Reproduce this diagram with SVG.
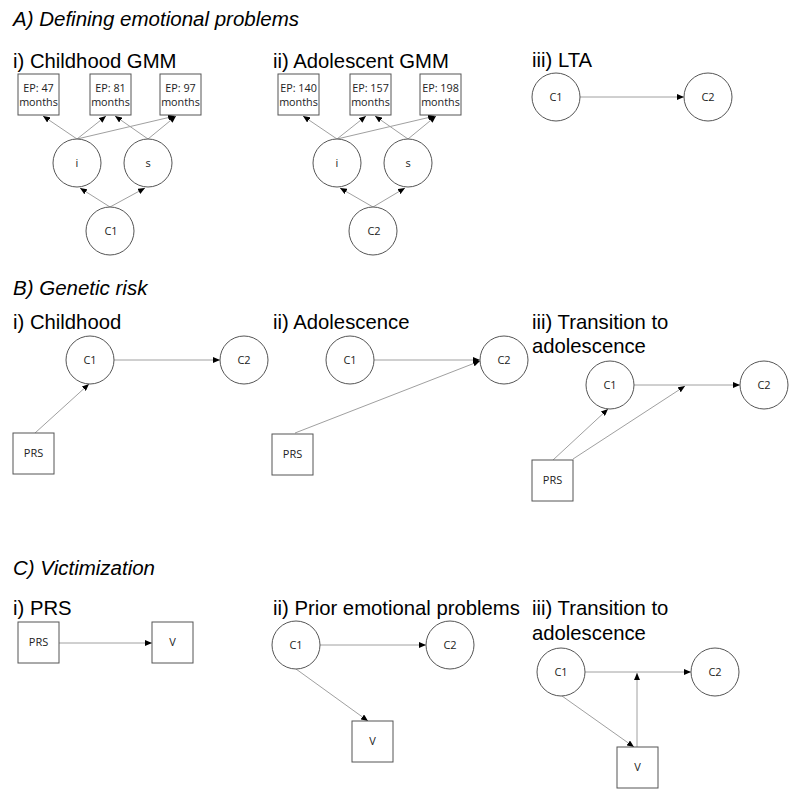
<svg xmlns="http://www.w3.org/2000/svg" width="800" height="801" viewBox="0 0 800 801">
<style>
.sec{font-family:"Liberation Sans",Arial,sans-serif;font-size:20.5px;font-style:italic;fill:#000}
.sub{font-family:"Liberation Sans",Arial,sans-serif;font-size:20.3px;fill:#000}
.nd{fill:#fff;stroke:#555;stroke-width:1}
.lb{font-family:"Open Sans","Noto Sans",sans-serif;font-size:11px;fill:#222;text-anchor:middle}
.ep{font-family:"Open Sans","Noto Sans",sans-serif;font-size:10.8px;fill:#222;text-anchor:middle}
.cn line{stroke:#a0a0a0;stroke-width:1;marker-end:url(#ah)}
</style>
<defs>
<marker id="ah" markerUnits="userSpaceOnUse" viewBox="0 0 7 6" refX="7" refY="3" markerWidth="7" markerHeight="6" orient="auto">
<path d="M0,0 L7,3 L0,6 z" fill="#000"/>
</marker>
</defs>
<rect width="800" height="801" fill="#fff"/>

<!-- Titles -->
<text class="sec" x="13" y="26">A) Defining emotional problems</text>
<text class="sub" x="13" y="68">i) Childhood GMM</text>
<text class="sub" x="273" y="68">ii) Adolescent GMM</text>
<text class="sub" x="532" y="67">iii) LTA</text>
<text class="sec" x="13" y="295">B) Genetic risk</text>
<text class="sub" x="13" y="329">i) Childhood</text>
<text class="sub" x="273" y="329">ii) Adolescence</text>
<text class="sub" x="532" y="329">iii) Transition to</text>
<text class="sub" x="532" y="353">adolescence</text>
<text class="sec" x="13" y="575">C) Victimization</text>
<text class="sub" x="13" y="615">i) PRS</text>
<text class="sub" x="273" y="615">ii) Prior emotional problems</text>
<text class="sub" x="532" y="615">iii) Transition to</text>
<text class="sub" x="532" y="640">adolescence</text>

<!-- Connectors -->
<g id="connectors" class="cn">
<line x1="77" y1="139" x2="43" y2="116"/>
<line x1="77" y1="139" x2="106" y2="116"/>
<line x1="77" y1="139" x2="175" y2="116"/>
<line x1="148" y1="139" x2="115" y2="116"/>
<line x1="148" y1="139" x2="176" y2="116"/>
<line x1="110" y1="207" x2="80" y2="188"/>
<line x1="110" y1="207" x2="145" y2="188"/>

<line x1="337" y1="139" x2="303" y2="116"/>
<line x1="337" y1="139" x2="366" y2="116"/>
<line x1="337" y1="139" x2="435" y2="116"/>
<line x1="408" y1="139" x2="375" y2="116"/>
<line x1="408" y1="139" x2="436" y2="116"/>
<line x1="373" y1="207" x2="340" y2="188"/>
<line x1="373" y1="207" x2="405" y2="188"/>

<line x1="580" y1="97" x2="684" y2="97"/>

<line x1="114" y1="360" x2="220" y2="360"/>
<line x1="35" y1="433" x2="89" y2="384"/>

<line x1="374" y1="360" x2="480" y2="360"/>
<line x1="295" y1="433" x2="480" y2="361"/>

<line x1="634" y1="385" x2="740" y2="385"/>
<line x1="553" y1="460" x2="608" y2="409"/>
<line x1="573" y1="459" x2="685" y2="386"/>

<line x1="59" y1="643" x2="152" y2="643"/>

<line x1="320" y1="645" x2="426" y2="645"/>
<line x1="296" y1="669" x2="368" y2="721"/>

<line x1="585" y1="672" x2="691" y2="672"/>
<line x1="562" y1="696" x2="634" y2="747"/>
<line x1="637" y1="747" x2="637" y2="673"/>
</g>

<!-- A i -->
<g id="a1-ep47"><rect class="nd" x="18" y="74" width="41" height="41"/><text class="ep" x="38.5" y="92">EP: 47</text><text class="ep" x="38.5" y="106">months</text></g>
<g id="a1-ep81"><rect class="nd" x="90" y="74" width="41" height="41"/><text class="ep" x="110.5" y="92">EP: 81</text><text class="ep" x="110.5" y="106">months</text></g>
<g id="a1-ep97"><rect class="nd" x="160" y="74" width="41" height="41"/><text class="ep" x="180.5" y="92">EP: 97</text><text class="ep" x="180.5" y="106">months</text></g>
<g id="a1-i"><circle class="nd" cx="77" cy="163" r="24"/><text class="lb" x="77" y="167">i</text></g>
<g id="a1-s"><circle class="nd" cx="148" cy="163" r="24"/><text class="lb" x="148" y="167">s</text></g>
<g id="a1-c1"><circle class="nd" cx="110" cy="231" r="24"/><text class="lb" x="111" y="235">C1</text></g>

<!-- A ii -->
<g id="a2-ep140"><rect class="nd" x="278" y="74" width="41" height="41"/><text class="ep" x="298.5" y="92">EP: 140</text><text class="ep" x="298.5" y="106">months</text></g>
<g id="a2-ep157"><rect class="nd" x="350" y="74" width="41" height="41"/><text class="ep" x="370.5" y="92">EP: 157</text><text class="ep" x="370.5" y="106">months</text></g>
<g id="a2-ep198"><rect class="nd" x="420" y="74" width="41" height="41"/><text class="ep" x="440.5" y="92">EP: 198</text><text class="ep" x="440.5" y="106">months</text></g>
<g id="a2-i"><circle class="nd" cx="337" cy="163" r="24"/><text class="lb" x="337" y="167">i</text></g>
<g id="a2-s"><circle class="nd" cx="408" cy="163" r="24"/><text class="lb" x="408" y="167">s</text></g>
<g id="a2-c2"><circle class="nd" cx="373" cy="231" r="24"/><text class="lb" x="374" y="235">C2</text></g>

<!-- A iii -->
<g id="a3-c1"><circle class="nd" cx="556" cy="97" r="24"/><text class="lb" x="556" y="101">C1</text></g>
<g id="a3-c2"><circle class="nd" cx="708" cy="97" r="24"/><text class="lb" x="708" y="101">C2</text></g>

<!-- B i -->
<g id="b1-c1"><circle class="nd" cx="90" cy="360" r="24"/><text class="lb" x="90" y="364">C1</text></g>
<g id="b1-c2"><circle class="nd" cx="244" cy="360" r="24"/><text class="lb" x="244" y="364">C2</text></g>
<g id="b1-prs"><rect class="nd" x="13" y="433" width="41" height="41"/><text class="lb" x="33.5" y="457">PRS</text></g>

<!-- B ii -->
<g id="b2-c1"><circle class="nd" cx="350" cy="360" r="24"/><text class="lb" x="350" y="364">C1</text></g>
<g id="b2-c2"><circle class="nd" cx="504" cy="360" r="24"/><text class="lb" x="504" y="364">C2</text></g>
<g id="b2-prs"><rect class="nd" x="272" y="434" width="41" height="41"/><text class="lb" x="292.5" y="458">PRS</text></g>

<!-- B iii -->
<g id="b3-c1"><circle class="nd" cx="610" cy="385" r="24"/><text class="lb" x="610" y="389">C1</text></g>
<g id="b3-c2"><circle class="nd" cx="764" cy="385" r="24"/><text class="lb" x="764" y="389">C2</text></g>
<g id="b3-prs"><rect class="nd" x="532" y="460" width="41" height="41"/><text class="lb" x="552.5" y="484">PRS</text></g>

<!-- C i -->
<g id="c1-prs"><rect class="nd" x="18" y="622" width="41" height="41"/><text class="lb" x="38.5" y="646">PRS</text></g>
<g id="c1-v"><rect class="nd" x="152" y="622" width="41" height="41"/><text class="lb" x="172.5" y="646">V</text></g>

<!-- C ii -->
<g id="c2-c1"><circle class="nd" cx="296" cy="645" r="24"/><text class="lb" x="296" y="649">C1</text></g>
<g id="c2-c2"><circle class="nd" cx="450" cy="645" r="24"/><text class="lb" x="450" y="649">C2</text></g>
<g id="c2-v"><rect class="nd" x="352" y="721" width="41" height="41"/><text class="lb" x="372.5" y="745">V</text></g>

<!-- C iii -->
<g id="c3-c1"><circle class="nd" cx="561" cy="672" r="24"/><text class="lb" x="561" y="676">C1</text></g>
<g id="c3-c2"><circle class="nd" cx="715" cy="672" r="24"/><text class="lb" x="715" y="676">C2</text></g>
<g id="c3-v"><rect class="nd" x="617" y="747" width="41" height="41"/><text class="lb" x="637.5" y="771">V</text></g>
</svg>
